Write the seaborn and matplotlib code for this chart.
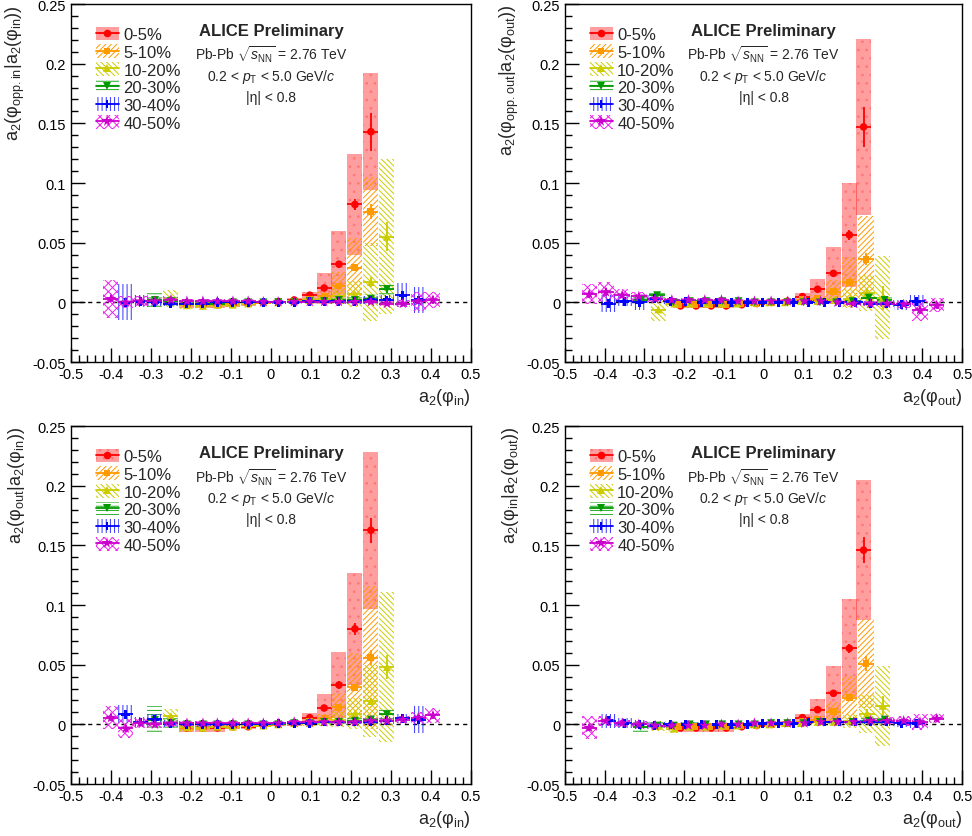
import numpy as np
import pandas as pd
import matplotlib
matplotlib.use("Agg")
import matplotlib.pyplot as plt
from matplotlib.patches import Patch
from matplotlib.lines import Line2D
from matplotlib.ticker import MultipleLocator, FuncFormatter
import seaborn as sns

CENT = ["0-5%", "5-10%", "10-20%", "20-30%", "30-40%", "40-50%"]

# mean a2(phi_in) per bin, one list per centrality (left column)
X_IN = [
    [-0.21, -0.17, -0.134, -0.095, -0.057, -0.019, 0.018, 0.058, 0.097, 0.133, 0.17, 0.21, 0.25],
    [-0.21, -0.17, -0.134, -0.095, -0.057, -0.019, 0.018, 0.058, 0.097, 0.133, 0.17, 0.21, 0.25],
    [-0.25, -0.21, -0.17, -0.134, -0.095, -0.057, -0.019, 0.018, 0.058, 0.097, 0.133, 0.17, 0.21, 0.25, 0.29],
    [-0.29, -0.25, -0.21, -0.17, -0.134, -0.095, -0.057, -0.019, 0.018, 0.058, 0.097, 0.133, 0.17, 0.21, 0.25, 0.29],
    [-0.363, -0.327, -0.29, -0.25, -0.21, -0.17, -0.134, -0.095, -0.057, -0.019, 0.018, 0.058, 0.097, 0.133, 0.17,
     0.21, 0.25, 0.29, 0.33, 0.368],
    [-0.40, -0.363, -0.327, -0.29, -0.25, -0.21, -0.17, -0.134, -0.095, -0.057, -0.019, 0.018, 0.058, 0.097, 0.133,
     0.17, 0.21, 0.25, 0.29, 0.33, 0.368, 0.405],
]
# mean a2(phi_out) per bin (right column)
X_OUT = [
    [-0.209, -0.17, -0.132, -0.094, -0.055, -0.017, 0.021, 0.06, 0.098, 0.136, 0.176, 0.216, 0.252],
    [-0.213, -0.175, -0.136, -0.097, -0.058, -0.019, 0.02, 0.059, 0.098, 0.137, 0.176, 0.217, 0.258],
    [-0.265, -0.225, -0.186, -0.146, -0.106, -0.066, -0.026, 0.014, 0.054, 0.094, 0.136, 0.178, 0.219, 0.26, 0.30],
    [-0.31, -0.268, -0.227, -0.186, -0.145, -0.104, -0.063, -0.022, 0.019, 0.06, 0.101, 0.142, 0.183, 0.224, 0.265,
     0.305],
    [-0.39, -0.351, -0.312, -0.274, -0.235, -0.196, -0.157, -0.118, -0.08, -0.041, -0.002, 0.037, 0.076, 0.114, 0.153,
     0.192, 0.231, 0.27, 0.309, 0.347, 0.386],
    [-0.439, -0.397, -0.356, -0.314, -0.273, -0.231, -0.189, -0.148, -0.106, -0.064, -0.023, 0.019, 0.061, 0.103,
     0.144, 0.186, 0.227, 0.269, 0.311, 0.353, 0.394, 0.436],
]

# top-left: a2(phi_opp.in | a2(phi_in))
TL_Y = [
    [-0.002, -0.002, -0.002, -0.0015, -0.001, -0.0005, 0.0005, 0.002, 0.006, 0.012, 0.032, 0.082, 0.143],
    [-0.002, -0.002, -0.002, -0.0015, -0.001, -0.0005, 0.0005, 0.001, 0.002, 0.005, 0.0137, 0.029, 0.076],
    [0.003, -0.0025, -0.003, -0.002, -0.002, -0.001, 0.0, 0.0, 0.001, 0.002, 0.003, 0.005, 0.007, 0.017, 0.055],
    [0.002, 0.001, -0.001, -0.001, -0.001, 0.0, 0.0, 0.0, 0.0, 0.0, 0.001, 0.001, 0.002, 0.002, 0.003, 0.011],
    [0.0, 0.001, 0.0, -0.001, -0.001, -0.001, 0.0, 0.0, 0.0, 0.0, 0.0, 0.0, 0.001, 0.001, 0.001, 0.001, 0.002, 0.002,
     0.006, 0.002],
    [0.003, 0.0, 0.001, 0.001, 0.002, 0.001, 0.001, 0.001, 0.001, 0.001, 0.0005, 0.0005, 0.0005, 0.0005, 0.0005,
     0.0005, 0.0005, 0.0005, -0.001, -0.001, 0.001, 0.002],
]
TL_STAT = [
    [0.001, 0.001, 0.001, 0.001, 0.001, 0.001, 0.001, 0.001, 0.0015, 0.002, 0.003, 0.005, 0.016],
    [0.001, 0.001, 0.001, 0.001, 0.001, 0.001, 0.001, 0.001, 0.001, 0.0015, 0.002, 0.003, 0.006],
    [0.002, 0.001, 0.001, 0.001, 0.001, 0.001, 0.001, 0.001, 0.001, 0.001, 0.001, 0.0015, 0.002, 0.004, 0.012],
    [0.002, 0.001, 0.001, 0.001, 0.001, 0.001, 0.001, 0.001, 0.001, 0.001, 0.001, 0.001, 0.001, 0.0015, 0.002, 0.003],
    [0.003, 0.0015, 0.001, 0.001, 0.001, 0.001, 0.001, 0.001, 0.001, 0.001, 0.001, 0.001, 0.001, 0.001, 0.001, 0.001,
     0.0015, 0.002, 0.003, 0.003],
    [0.003, 0.0015, 0.001, 0.001, 0.001, 0.001, 0.001, 0.001, 0.001, 0.001, 0.001, 0.001, 0.001, 0.001, 0.001, 0.001,
     0.001, 0.001, 0.0015, 0.002, 0.002, 0.003],
]
TL_SYS = [
    [0.003, 0.003, 0.003, 0.002, 0.002, 0.001, 0.001, 0.002, 0.003, 0.013, 0.028, 0.042, 0.049],
    [0.002, 0.002, 0.002, 0.002, 0.001, 0.001, 0.001, 0.001, 0.002, 0.004, 0.012, 0.025, 0.029],
    [0.007, 0.003, 0.002, 0.002, 0.002, 0.002, 0.001, 0.001, 0.001, 0.002, 0.003, 0.006, 0.011, 0.033, 0.065],
    [0.006, 0.004, 0.002, 0.002, 0.002, 0.002, 0.001, 0.001, 0.001, 0.001, 0.001, 0.002, 0.002, 0.003, 0.004, 0.005],
    [0.015, 0.005, 0.003, 0.002, 0.002, 0.002, 0.001, 0.001, 0.001, 0.001, 0.001, 0.001, 0.001, 0.001, 0.002, 0.002,
     0.003, 0.004, 0.01, 0.011],
    [0.016, 0.005, 0.004, 0.003, 0.003, 0.002, 0.002, 0.002, 0.001, 0.001, 0.001, 0.001, 0.001, 0.001, 0.001, 0.002,
     0.002, 0.002, 0.002, 0.003, 0.008, 0.007],
]

# top-right: a2(phi_opp.out | a2(phi_out))
TR_Y = [
    [-0.003, -0.003, -0.003, -0.003, -0.002, -0.001, 0.0, 0.001, 0.0048, 0.011, 0.0243, 0.0565, 0.147],
    [-0.002, -0.002, -0.002, -0.002, -0.001, -0.001, 0.0, 0.001, 0.002, 0.003, 0.009, 0.017, 0.036],
    [-0.006, -0.001, -0.001, -0.001, -0.001, -0.001, 0.0, 0.0, 0.0, 0.001, 0.001, 0.002, 0.003, 0.008, 0.004],
    [0.002, 0.006, 0.0, 0.001, 0.001, 0.001, 0.001, 0.0, 0.0, 0.0, 0.0, 0.0, 0.0, 0.001, 0.004, 0.002],
    [-0.001, 0.001, 0.0, 0.003, 0.001, 0.001, 0.0, 0.0, 0.0, 0.0, 0.0, 0.0, 0.0, 0.0, 0.0, 0.0, 0.0, -0.001, -0.001,
     -0.002, 0.001],
    [0.0067, 0.0087, 0.006, 0.005, 0.003, 0.002, 0.002, 0.002, 0.002, 0.001, 0.001, 0.001, 0.001, 0.001, 0.001, 0.0,
     -0.001, -0.001, -0.001, -0.0017, -0.0064, -0.0025],
]
TR_STAT = [
    [0.001, 0.001, 0.001, 0.001, 0.001, 0.001, 0.001, 0.001, 0.001, 0.0015, 0.002, 0.004, 0.0165],
    [0.001, 0.001, 0.001, 0.001, 0.001, 0.001, 0.001, 0.001, 0.001, 0.001, 0.002, 0.003, 0.005],
    [0.002, 0.001, 0.001, 0.001, 0.001, 0.001, 0.001, 0.001, 0.001, 0.001, 0.001, 0.001, 0.002, 0.004, 0.01],
    [0.002, 0.002, 0.001, 0.001, 0.001, 0.001, 0.001, 0.001, 0.001, 0.001, 0.001, 0.001, 0.001, 0.001, 0.002, 0.003],
    [0.003, 0.002, 0.002, 0.001, 0.001, 0.001, 0.001, 0.001, 0.001, 0.001, 0.001, 0.001, 0.001, 0.001, 0.001, 0.001,
     0.001, 0.001, 0.002, 0.002, 0.003],
    [0.003, 0.003, 0.002, 0.001, 0.001, 0.001, 0.001, 0.001, 0.001, 0.001, 0.001, 0.001, 0.001, 0.001, 0.001, 0.001,
     0.001, 0.001, 0.001, 0.002, 0.003, 0.003],
]
TR_SYS = [
    [0.002, 0.002, 0.002, 0.002, 0.002, 0.001, 0.001, 0.002, 0.003, 0.0085, 0.022, 0.0435, 0.074],
    [0.002, 0.002, 0.002, 0.002, 0.001, 0.001, 0.001, 0.001, 0.001, 0.003, 0.01, 0.021, 0.036],
    [0.01, 0.003, 0.002, 0.002, 0.002, 0.001, 0.001, 0.001, 0.001, 0.001, 0.002, 0.003, 0.008, 0.015, 0.035],
    [0.004, 0.003, 0.002, 0.002, 0.001, 0.001, 0.001, 0.001, 0.001, 0.001, 0.001, 0.001, 0.002, 0.002, 0.003, 0.004],
    [0.007, 0.004, 0.006, 0.003, 0.002, 0.002, 0.002, 0.001, 0.001, 0.001, 0.001, 0.001, 0.001, 0.001, 0.001, 0.001,
     0.002, 0.002, 0.003, 0.004, 0.005],
    [0.0084, 0.0084, 0.005, 0.004, 0.003, 0.002, 0.002, 0.002, 0.001, 0.001, 0.001, 0.001, 0.001, 0.001, 0.001, 0.001,
     0.002, 0.002, 0.002, 0.003, 0.009, 0.006],
]

# bottom-left: a2(phi_out | a2(phi_in))
BL_Y = [
    [-0.003, -0.003, -0.003, -0.002, -0.002, -0.001, 0.0, 0.001, 0.0056, 0.0137, 0.033, 0.080, 0.1626],
    [-0.003, -0.003, -0.002, -0.002, -0.001, -0.001, 0.0, 0.001, 0.002, 0.005, 0.0145, 0.031, 0.056],
    [0.007, -0.0025, -0.003, -0.002, -0.002, -0.001, -0.001, 0.0, 0.001, 0.001, 0.002, 0.004, 0.009, 0.0195, 0.048],
    [0.0036, 0.001, 0.0, 0.0, 0.0, 0.0, 0.0, 0.0, 0.0, 0.001, 0.001, 0.002, 0.002, 0.003, 0.004, 0.0084],
    [0.0084, 0.002, 0.0044, 0.001, 0.0, 0.0, 0.0, 0.0, 0.0, 0.0, 0.001, 0.001, 0.001, 0.002, 0.002, 0.002, 0.002,
     0.003, 0.005, 0.004],
    [0.0056, -0.0034, 0.001, 0.0, 0.001, 0.001, 0.001, 0.001, 0.001, 0.001, 0.001, 0.001, 0.002, 0.002, 0.002, 0.002,
     0.002, 0.003, 0.003, 0.004, 0.0056, 0.0075],
]
BL_STAT = [
    [0.001, 0.001, 0.001, 0.001, 0.001, 0.001, 0.001, 0.001, 0.0015, 0.002, 0.003, 0.005, 0.0105],
    [0.001, 0.001, 0.001, 0.001, 0.001, 0.001, 0.001, 0.001, 0.001, 0.0015, 0.002, 0.003, 0.006],
    [0.002, 0.001, 0.001, 0.001, 0.001, 0.001, 0.001, 0.001, 0.001, 0.001, 0.001, 0.0015, 0.002, 0.003, 0.01],
    [0.003, 0.001, 0.001, 0.001, 0.001, 0.001, 0.001, 0.001, 0.001, 0.001, 0.001, 0.001, 0.001, 0.0015, 0.002, 0.003],
    [0.003, 0.0015, 0.002, 0.001, 0.001, 0.001, 0.001, 0.001, 0.001, 0.001, 0.001, 0.001, 0.001, 0.001, 0.001, 0.001,
     0.0015, 0.002, 0.003, 0.003],
    [0.003, 0.003, 0.0015, 0.001, 0.001, 0.001, 0.001, 0.001, 0.001, 0.001, 0.001, 0.001, 0.001, 0.001, 0.001, 0.001,
     0.001, 0.001, 0.0015, 0.002, 0.002, 0.003],
]
BL_SYS = [
    [0.003, 0.003, 0.003, 0.002, 0.002, 0.001, 0.001, 0.002, 0.004, 0.012, 0.028, 0.047, 0.066],
    [0.003, 0.002, 0.002, 0.002, 0.001, 0.001, 0.001, 0.001, 0.002, 0.004, 0.012, 0.029, 0.06],
    [0.006, 0.003, 0.002, 0.002, 0.002, 0.001, 0.001, 0.001, 0.001, 0.002, 0.003, 0.006, 0.013, 0.03, 0.063],
    [0.0118, 0.004, 0.002, 0.002, 0.001, 0.001, 0.001, 0.001, 0.001, 0.001, 0.001, 0.002, 0.002, 0.003, 0.004, 0.006],
    [0.0075, 0.004, 0.004, 0.003, 0.002, 0.002, 0.001, 0.001, 0.001, 0.001, 0.001, 0.001, 0.001, 0.001, 0.002, 0.002,
     0.002, 0.003, 0.004, 0.011],
    [0.0097, 0.008, 0.004, 0.003, 0.002, 0.002, 0.002, 0.001, 0.001, 0.001, 0.001, 0.001, 0.001, 0.001, 0.001, 0.002,
     0.002, 0.002, 0.002, 0.003, 0.005, 0.006],
]

# bottom-right: a2(phi_in | a2(phi_out))
BR_Y = [
    [-0.003, -0.003, -0.003, -0.003, -0.002, -0.001, 0.0, 0.001, 0.0056, 0.0123, 0.026, 0.0637, 0.146],
    [-0.002, -0.002, -0.002, -0.002, -0.001, -0.001, 0.0, 0.001, 0.002, 0.004, 0.0106, 0.0224, 0.051],
    [-0.0014, -0.0036, -0.002, -0.002, -0.001, -0.001, 0.0, 0.0, 0.001, 0.001, 0.002, 0.002, 0.003, 0.009, 0.0155],
    [-0.002, -0.001, -0.001, 0.0, 0.0, 0.0, 0.0, 0.0, 0.001, 0.001, 0.001, 0.002, 0.002, 0.002, 0.003, 0.004],
    [0.003, 0.001, 0.0, -0.001, 0.0, 0.0, 0.0, 0.0, 0.0, 0.0, 0.001, 0.001, 0.001, 0.002, 0.002, 0.002, 0.002, 0.002,
     0.002, 0.001, 0.001],
    [-0.0028, 0.003, 0.001, 0.0, -0.001, -0.001, -0.001, -0.001, 0.0, 0.0, 0.001, 0.001, 0.001, 0.001, 0.002, 0.002,
     0.002, 0.003, 0.003, 0.003, 0.002, 0.0048],
]
BR_STAT = [
    [0.001, 0.001, 0.001, 0.001, 0.001, 0.001, 0.001, 0.001, 0.001, 0.0015, 0.002, 0.004, 0.011],
    [0.001, 0.001, 0.001, 0.001, 0.001, 0.001, 0.001, 0.001, 0.001, 0.001, 0.002, 0.003, 0.006],
    [0.002, 0.001, 0.001, 0.001, 0.001, 0.001, 0.001, 0.001, 0.001, 0.001, 0.001, 0.001, 0.002, 0.004, 0.008],
    [0.002, 0.001, 0.001, 0.001, 0.001, 0.001, 0.001, 0.001, 0.001, 0.001, 0.001, 0.001, 0.001, 0.001, 0.002, 0.003],
    [0.003, 0.002, 0.002, 0.001, 0.001, 0.001, 0.001, 0.001, 0.001, 0.001, 0.001, 0.001, 0.001, 0.001, 0.001, 0.001,
     0.001, 0.001, 0.002, 0.002, 0.003],
    [0.003, 0.002, 0.0015, 0.001, 0.001, 0.001, 0.001, 0.001, 0.001, 0.001, 0.001, 0.001, 0.001, 0.001, 0.001, 0.001,
     0.001, 0.001, 0.001, 0.002, 0.002, 0.003],
]
BR_SYS = [
    [0.003, 0.003, 0.003, 0.003, 0.002, 0.001, 0.001, 0.002, 0.003, 0.0087, 0.023, 0.041, 0.0586],
    [0.002, 0.002, 0.002, 0.002, 0.001, 0.001, 0.001, 0.001, 0.001, 0.003, 0.008, 0.018, 0.037],
    [0.004, 0.004, 0.003, 0.002, 0.002, 0.001, 0.001, 0.001, 0.001, 0.001, 0.002, 0.003, 0.006, 0.016, 0.0335],
    [0.004, 0.003, 0.002, 0.002, 0.001, 0.001, 0.001, 0.001, 0.001, 0.001, 0.001, 0.001, 0.002, 0.002, 0.003, 0.004],
    [0.006, 0.004, 0.004, 0.003, 0.002, 0.002, 0.002, 0.001, 0.001, 0.001, 0.001, 0.001, 0.001, 0.001, 0.001, 0.001,
     0.002, 0.002, 0.003, 0.003, 0.004],
    [0.0095, 0.004, 0.003, 0.003, 0.002, 0.002, 0.002, 0.001, 0.001, 0.001, 0.001, 0.001, 0.001, 0.001, 0.001, 0.002,
     0.002, 0.002, 0.003, 0.004, 0.007, 0.004],
]

COLORS = ["#ff0000", "#ff9900", "#cccc00", "#009900", "#0000ff", "#cc00cc"]
HATCH_COLORS = ["#ff7777", "#ff9900", "#cccc00", "#22aa22", "#3333ff", "#ee22ee"]
HATCHES = ["..", "//////", "\\\\\\\\\\\\", "----", "||||", "xxxx"]
MARKERS = ["o", "s", "^", "v", "P", "*"]
SIZES = [30, 25, 32, 32, 40, 70]

sns.set_theme(style="ticks")
plt.rcParams["font.family"] = ["Liberation Sans", "DejaVu Sans"]
plt.rcParams["mathtext.fontset"] = "custom"
plt.rcParams["mathtext.rm"] = "Liberation Sans"
plt.rcParams["mathtext.it"] = "Liberation Sans:italic"
plt.rcParams["mathtext.bf"] = "Liberation Sans:bold"
plt.rcParams["hatch.linewidth"] = 0.7
plt.rcParams["axes.unicode_minus"] = False


def fmt(v, _):
    if abs(v) < 1e-9:
        return "0"
    return f"{round(v, 3):g}"


def draw_panel(ax, xs, ys, stats, syss, bw, xlabel, ylabel):
    frames = []
    for i, c in enumerate(CENT):
        frames.append(pd.DataFrame({"x": xs[i], "y": ys[i], "stat": stats[i],
                                    "sys": syss[i], "cent": c}))
    data = pd.concat(frames, ignore_index=True)

    ax.axhline(0, color="black", ls=(0, (3, 3)), lw=1.0, zorder=0.5)
    # systematic boxes
    for i, c in enumerate(CENT):
        d = data[data.cent == c]
        face = (1, 0, 0, 0.38) if i == 0 else "none"
        ax.bar(d.x, 2 * d.sys, bottom=d.y - d.sys, width=bw, facecolor=face,
               edgecolor=HATCH_COLORS[i], hatch=HATCHES[i], linewidth=0, zorder=1)
    # statistical errors
    for i, c in enumerate(CENT):
        d = data[data.cent == c]
        ax.errorbar(d.x, d.y, yerr=d.stat, xerr=bw / 2, fmt="none", ecolor=COLORS[i],
                    elinewidth=1.3, capsize=0, zorder=2)
    sns.scatterplot(data=data, x="x", y="y", hue="cent", style="cent", size="cent",
                    hue_order=CENT, style_order=CENT, size_order=CENT,
                    palette=COLORS, markers=MARKERS, sizes=dict(zip(CENT, SIZES)),
                    linewidth=0, legend=False, ax=ax, zorder=3)

    ax.set_xlim(-0.5, 0.5)
    ax.set_ylim(-0.05, 0.25)
    ax.xaxis.set_major_locator(MultipleLocator(0.1))
    ax.xaxis.set_minor_locator(MultipleLocator(0.02))
    ax.yaxis.set_major_locator(MultipleLocator(0.05))
    ax.yaxis.set_minor_locator(MultipleLocator(0.01))
    ax.xaxis.set_major_formatter(FuncFormatter(fmt))
    ax.yaxis.set_major_formatter(FuncFormatter(fmt))
    ax.tick_params(which="both", direction="in", top=False, right=False,
                   labelsize=10.5, width=1, colors="black")
    ax.tick_params(which="major", length=10)
    ax.tick_params(which="minor", length=5)
    for s in ax.spines.values():
        s.set_color("black")
        s.set_linewidth(1)
    ax.set_xlabel(xlabel, loc="right", fontsize=13, labelpad=4)
    ax.set_ylabel(ylabel, loc="top", fontsize=13, labelpad=4)

    handles = []
    for i in range(len(CENT)):
        face = (1, 0, 0, 0.38) if i == 0 else "none"
        box = Patch(facecolor=face, edgecolor=HATCH_COLORS[i], hatch=HATCHES[i], linewidth=0)
        mk = Line2D([], [], color=COLORS[i], marker=MARKERS[i], markersize=np.sqrt(SIZES[i]),
                    markeredgewidth=0, lw=1.3)
        handles.append((box, mk))
    ax.legend(handles, CENT, loc="upper left", bbox_to_anchor=(0.062, 0.937), frameon=False,
              fontsize=12, handlelength=1.4, handleheight=0.9, labelspacing=0.12,
              handletextpad=0.25, borderpad=0, borderaxespad=0)

    ax.text(0.5, 0.925, "ALICE Preliminary", fontsize=12, weight="bold",
            ha="center", va="center", transform=ax.transAxes)
    ax.text(0.5, 0.86, r"Pb-Pb $\sqrt{s_{\mathrm{NN}}}$ = 2.76 TeV", fontsize=10,
            ha="center", va="center", transform=ax.transAxes)
    ax.text(0.5, 0.80, r"0.2 < $p_{\mathrm{T}}$ < 5.0 GeV/$c$", fontsize=10,
            ha="center", va="center", transform=ax.transAxes)
    ax.text(0.5, 0.74, "|η| < 0.8", fontsize=10,
            ha="center", va="center", transform=ax.transAxes)


fig = plt.figure(figsize=(9.72, 8.37), dpi=100)
ax_tl = fig.add_axes([0.0730, 0.5663, 0.4115, 0.4277])
ax_tr = fig.add_axes([0.5813, 0.5663, 0.4085, 0.4277])
ax_bl = fig.add_axes([0.0730, 0.0621, 0.4115, 0.4277])
ax_br = fig.add_axes([0.5813, 0.0621, 0.4085, 0.4277])

draw_panel(ax_tl, X_IN, TL_Y, TL_STAT, TL_SYS, 0.0375,
           r"a$_2$(φ$_{\mathrm{in}}$)", r"a$_2$(φ$_{\mathrm{opp.in}}$|a$_2$(φ$_{\mathrm{in}}$))")
draw_panel(ax_tr, X_OUT, TR_Y, TR_STAT, TR_SYS, 0.039,
           r"a$_2$(φ$_{\mathrm{out}}$)", r"a$_2$(φ$_{\mathrm{opp.out}}$|a$_2$(φ$_{\mathrm{out}}$))")
draw_panel(ax_bl, X_IN, BL_Y, BL_STAT, BL_SYS, 0.0375,
           r"a$_2$(φ$_{\mathrm{in}}$)", r"a$_2$(φ$_{\mathrm{out}}$|a$_2$(φ$_{\mathrm{in}}$))")
draw_panel(ax_br, X_OUT, BR_Y, BR_STAT, BR_SYS, 0.039,
           r"a$_2$(φ$_{\mathrm{out}}$)", r"a$_2$(φ$_{\mathrm{in}}$|a$_2$(φ$_{\mathrm{out}}$))")

fig.savefig("out.png", dpi=100)
